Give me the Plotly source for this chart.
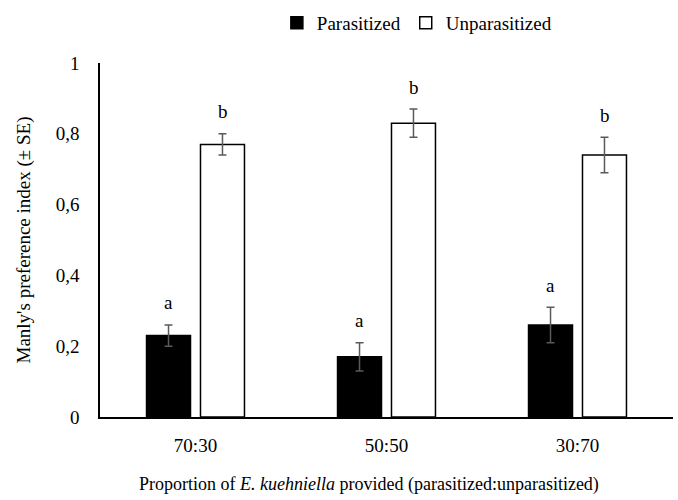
import plotly.graph_objects as go

categories = ["70:30", "50:50", "30:70"]
parasitized = [0.23, 0.17, 0.26]
parasitized_se = [0.03, 0.04, 0.05]
unparasitized = [0.77, 0.83, 0.74]
unparasitized_se = [0.03, 0.04, 0.05]
letters_par = ["a", "a", "a"]
letters_unpar = ["b", "b", "b"]
y_ticks = [0, 0.2, 0.4, 0.6, 0.8, 1]

FONT = "Liberation Serif, Times New Roman, serif"
ERR_COLOR = "#5a5a5a"
FS = 19

fig = go.Figure()
fig.add_trace(go.Bar(
    name="Parasitized", x=categories, y=parasitized,
    marker=dict(color="black", line=dict(color="black", width=1.5)),
    error_y=dict(type="data", array=parasitized_se, color=ERR_COLOR, thickness=1.5, width=4),
))
fig.add_trace(go.Bar(
    name="Unparasitized", x=categories, y=unparasitized,
    marker=dict(color="white", line=dict(color="black", width=1.5)),
    error_y=dict(type="data", array=unparasitized_se, color=ERR_COLOR, thickness=1.5, width=4),
))

# significance letters above error bars
annotations = []
for vals, errs, letters, shift in [
    (parasitized, parasitized_se, letters_par, -0.1425),
    (unparasitized, unparasitized_se, letters_unpar, 0.1425),
]:
    for i, (v, e, t) in enumerate(zip(vals, errs, letters)):
        annotations.append(dict(
            x=i + shift, y=v + e, xref="x", yref="y", text=t, showarrow=False,
            yanchor="middle", yshift=22, font=dict(family=FONT, size=FS, color="black"),
        ))

# x-axis title (slightly left of the plot centre, as in the original)
annotations.append(dict(
    x=0.469, y=-0.19, xref="paper", yref="paper", yanchor="middle", xanchor="center",
    showarrow=False,
    text="Proportion of <i>E. kuehniella</i> provided (parasitized:unparasitized)",
    font=dict(family=FONT, size=18, color="black"),
))

fig.update_layout(
    width=678, height=500,
    margin=dict(l=100, r=5, t=63, b=83),
    paper_bgcolor="white", plot_bgcolor="white",
    separators=", ",
    barmode="group", bargap=0.435, bargroupgap=0.185,
    font=dict(family=FONT, size=FS, color="black"),
    showlegend=True,
    legend=dict(orientation="h", x=0.553, xanchor="center", y=0.954, yanchor="middle",
                yref="container", font=dict(family=FONT, size=FS, color="black"),
                itemwidth=30, traceorder="normal"),
    annotations=annotations,
    xaxis=dict(
        showline=True, linecolor="black", linewidth=1.5, showgrid=False,
        ticks="", ticklabelstandoff=10,
        tickfont=dict(family=FONT, size=FS, color="black"),
    ),
    yaxis=dict(
        range=[0, 1], tickvals=y_ticks, showline=True, linecolor="black", linewidth=1.5,
        showgrid=False, zeroline=False, ticks="", ticklabelstandoff=15,
        tickfont=dict(family=FONT, size=FS, color="black"),
        title=dict(text="Manly's preference index (± SE)",
                   font=dict(family=FONT, size=FS, color="black"), standoff=20),
    ),
)

fig.write_html("out.html")
